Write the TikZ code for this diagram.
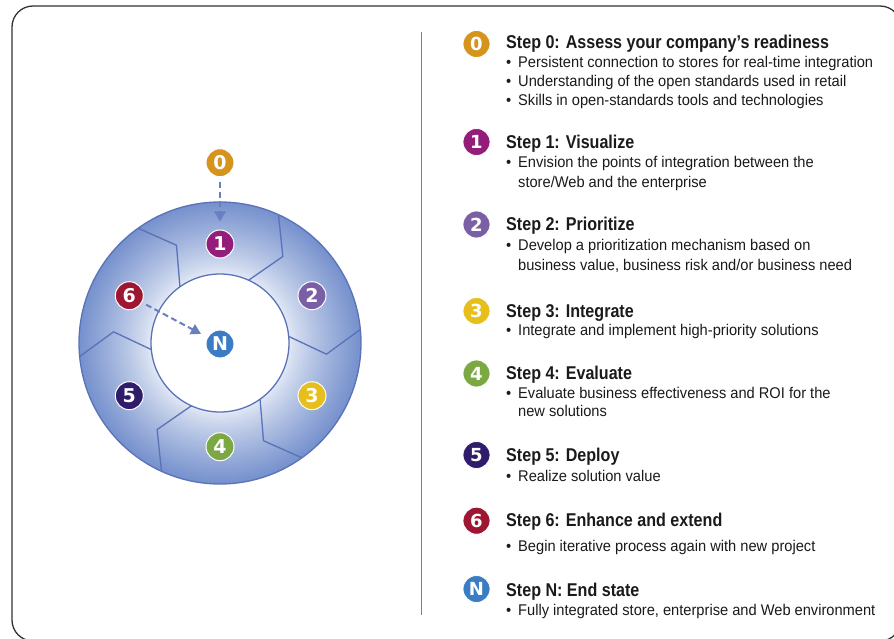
\documentclass[tikz,border=0pt]{standalone}
\usepackage{fontspec}
\setmainfont{Liberation Sans}
\newfontfamily\condfont{Liberation Sans}[FakeStretch=0.945]
\newfontfamily\titlefont{Liberation Sans}[FakeStretch=0.87]
\newfontfamily\badgefont{DejaVu Sans}
\usetikzlibrary{arrows.meta}
\definecolor{cz}{HTML}{D4941E}
\definecolor{cone}{HTML}{941C7A}
\definecolor{ctwo}{HTML}{7A5FA5}
\definecolor{cthree}{HTML}{E6BF1C}
\definecolor{cfour}{HTML}{7BA843}
\definecolor{cfive}{HTML}{2F1D6B}
\definecolor{csix}{HTML}{9E1631}
\definecolor{cN}{HTML}{3B7DC4}
\definecolor{ringin}{HTML}{E4EAF6}
\definecolor{ringout}{HTML}{7691CD}
\definecolor{ringline}{HTML}{5A72B8}
\definecolor{arrowc}{HTML}{6A7FC0}
\definecolor{txt}{HTML}{1A1A1A}
\tikzset{
  ringbadge/.style={circle, fill=#1, draw=white, line width=1pt, minimum size=28pt, inner sep=0pt, text=white, font=\badgefont\bfseries\fontsize{19}{19}\selectfont},
  listbadge/.style={circle, fill=#1, draw=white, line width=0.8pt, minimum size=27pt, inner sep=0pt, text=white, font=\badgefont\bfseries\fontsize{18}{18}\selectfont},
  steptitle/.style={anchor=base west, inner sep=0pt, text=txt, font=\titlefont\bfseries\fontsize{18.5}{20}\selectfont},
  bullettext/.style={anchor=base west, inner sep=0pt, text=txt, font=\condfont\fontsize{15.5}{19.4}\selectfont},
  dasharrow/.style={draw=arrowc, line width=2pt, dash pattern=on 6pt off 3.5pt, -{Triangle[width=11pt,length=10pt]}},
  ringstroke/.style={draw=ringline, line width=1.3pt},
}
\newcommand{\bul}{\makebox[12pt][l]{\textbullet}}
\newcommand{\cont}{\hspace*{12pt}}
\begin{document}
\begin{tikzpicture}[x=1pt,y=-1pt]
\useasboundingbox (0,0) rectangle (894,639);
% frame
\draw[draw=black!80, line width=1.3pt, rounded corners=21pt] (12,6) rectangle (901,641);
% separator
\draw[draw=black!50, line width=1.5pt] (421.7,32) -- (421.7,615);
% ring
\coordinate (C) at (220,343);
\foreach \r in {141,139.5,...,69}{
  \pgfmathsetmacro{\p}{100*((\r-69)/72)^0.85}
  \fill[ringout!\p!ringin] (C) circle[radius=\r pt];
}
\fill[white] (C) circle[radius=69pt];
\draw[ringstroke] (C) circle[radius=141pt];
\draw[ringstroke] (C) circle[radius=69pt];
\begin{scope}[shift={(220,343)}, yscale=-1]
  \foreach \t in {60,0,-60,-120,180,120}{
    \draw[ringstroke, line join=round] (\t+5.5:69) -- (\t-6:107) -- (\t+5.5:141);
  }
\end{scope}
% ring badges
\node[ringbadge=cz] (r0) at (220,162.7) {0};
\node[ringbadge=cone] (r1) at (220,244) {1};
\node[ringbadge=ctwo] (r2) at (312,295.7) {2};
\node[ringbadge=cthree] (r3) at (312,395.7) {3};
\node[ringbadge=cfour] (r4) at (220,446.7) {4};
\node[ringbadge=cfive] (r5) at (129.3,395.7) {5};
\node[ringbadge=csix] (r6) at (129.3,295.7) {6};
\node[ringbadge=cN] (rN) at (220,344) {N};
\draw[dasharrow, shorten <=5pt, shorten >=8pt] (r0) -- (r1);
\draw[dasharrow, shorten <=4.5pt, shorten >=7pt] (r6) -- (rN);
% list badges
\node[listbadge=cz] (l0) at (476.5,44) {0};
\node[listbadge=cone] (l1) at (476.5,142) {1};
\node[listbadge=ctwo] (l2) at (476.5,224.5) {2};
\node[listbadge=cthree] (l3) at (476.5,311) {3};
\node[listbadge=cfour] (l4) at (476.5,373.5) {4};
\node[listbadge=cfive] (l5) at (476.5,455) {5};
\node[listbadge=csix] (l6) at (476.5,520.7) {6};
\node[listbadge=cN] (lN) at (476.5,589) {N};
% texts
\node[steptitle] (t0) at (506,48.3) {Step 0: Assess your company’s readiness};
\node[bullettext] (b0a) at (506,67.3) {\bul Persistent connection to stores for real-time integration};
\node[bullettext] (b0b) at (506,87) {\bul Understanding of the open standards used in retail};
\node[bullettext] (b0c) at (506,106) {\bul Skills in open-standards tools and technologies};
\node[steptitle] (t1) at (506,149) {Step 1: Visualize};
\node[bullettext] (b1a) at (506,167.7) {\bul Envision the points of integration between the};
\node[bullettext] (b1b) at (506,187.3) {\cont store/Web and the enterprise};
\node[steptitle] (t2) at (506,230.7) {Step 2: Prioritize};
\node[bullettext] (b2a) at (506,251) {\bul Develop a prioritization mechanism based on};
\node[bullettext] (b2b) at (506,270) {\cont business value, business risk and/or business need};
\node[steptitle] (t3) at (506,317.7) {Step 3: Integrate};
\node[bullettext] (b3) at (506,335.7) {\bul Integrate and implement high-priority solutions};
\node[steptitle] (t4) at (506,379) {Step 4: Evaluate};
\node[bullettext] (b4a) at (506,398.3) {\bul Evaluate business effectiveness and ROI for the};
\node[bullettext] (b4b) at (506,416.7) {\cont new solutions};
\node[steptitle] (t5) at (506,461) {Step 5: Deploy};
\node[bullettext] (b5) at (506,481) {\bul Realize solution value};
\node[steptitle] (t6) at (506,526.7) {Step 6: Enhance and extend};
\node[bullettext] (b6) at (506,551) {\bul Begin iterative process again with new project};
\node[steptitle] (tN) at (506,596.7) {Step N: End state};
\node[bullettext] (bN) at (506,615.7) {\bul Fully integrated store, enterprise and Web environment};
\end{tikzpicture}
\end{document}
